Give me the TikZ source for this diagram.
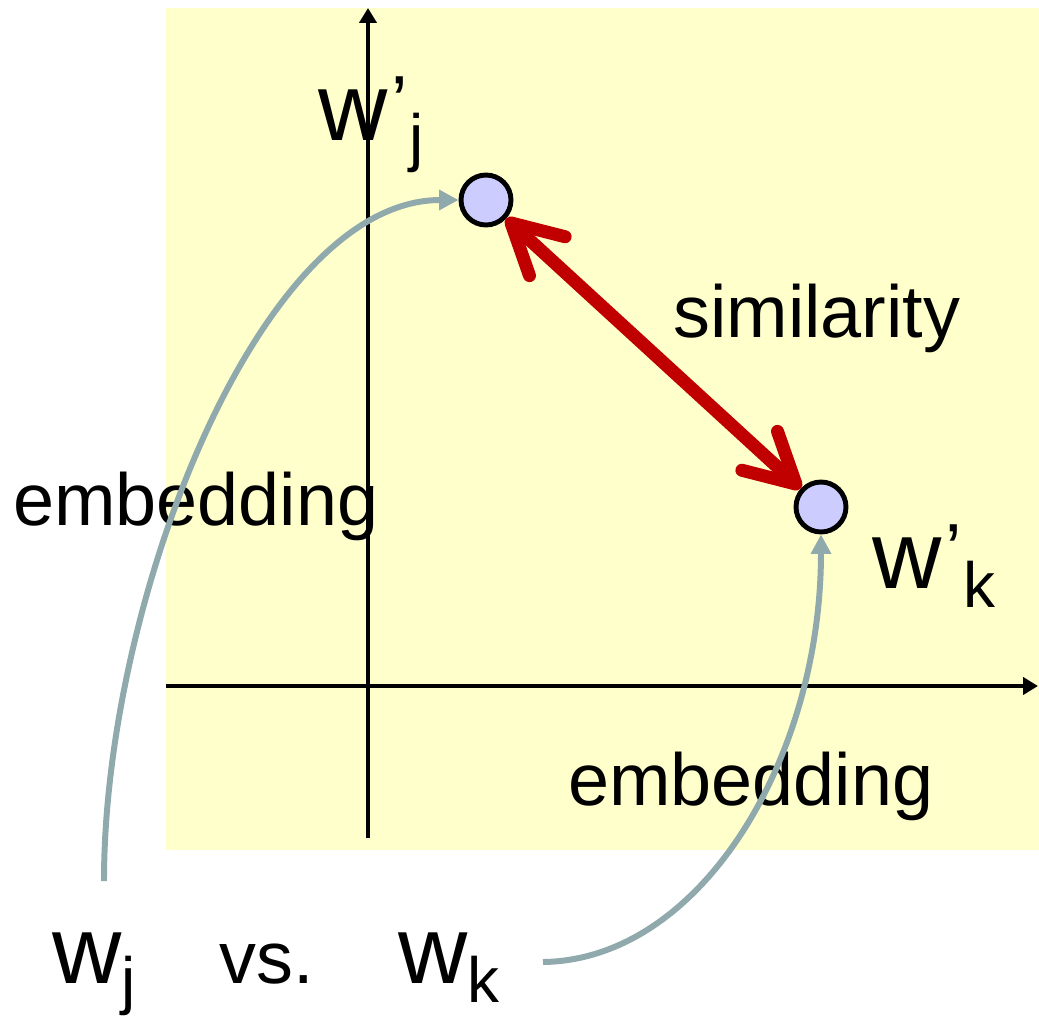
\documentclass[tikz,border=0pt]{standalone}
\usepackage{fontspec}
\setmainfont{Liberation Sans}
\usetikzlibrary{arrows.meta}

\definecolor{paper}{HTML}{FFFFCC}
\definecolor{dotfill}{HTML}{CCCCFF}
\definecolor{simred}{HTML}{C00000}
\definecolor{embgray}{HTML}{8FA9AC}

\newcommand{\bigw}{\fontsize{54.6}{60}\selectfont}
\newcommand{\midtxt}{\fontsize{42}{48}\selectfont}
\newcommand{\subtxt}{\fontsize{36.4}{40}\selectfont}
% word w with optional prime and a subscript
\newcommand{\wword}[2]{{\bigw w}#2{\subtxt\raisebox{-11pt}{#1}}}
\newcommand{\primemark}{\kern 2pt{\midtxt\raisebox{7pt}{’}}\kern 1pt}

\begin{document}
\begin{tikzpicture}[
        x=0.02cm, y=-0.02cm,
        axis/.style={line width=2.3pt, -{Triangle[length=8.5pt, width=9.7pt]}},
        dot/.style={
            circle,
            draw=black,
            fill=dotfill,
            line width=2.8pt,
            inner sep=0pt,
            minimum size=1.0cm
        },
        lbl/.style={anchor=base west, inner sep=0pt, font=\midtxt},
        simarrow/.style={
            draw=simred,
            line width=7.4pt,
            line cap=round,
            {Straight Barb[length=28pt, width=30pt, round]}-{Straight Barb[length=28pt, width=30pt, round]}
        },
        embarrow/.style={draw=embgray, line width=3.4pt, -{Triangle[length=11pt, width=11pt]}}
    ]
    \useasboundingbox (0,0) rectangle (1039,1018);
    \fill[paper] (166,8) rectangle (1039,850);

    % axes
    \coordinate (ybot) at (368,838);
    \coordinate (ytop) at (368,8);
    \coordinate (xleft) at (166,686);
    \coordinate (xright) at (1038,686);
    \draw[axis] (ybot) -- (ytop);
    \draw[axis] (xleft) -- (xright);

    % embedded points
    \node[dot] (wjp) at (486,200) {};
    \node[dot] (wkp) at (821,507) {};
    \node[lbl] (wjplab) at (318,140) {\wword{j}{\primemark}};
    \node[lbl] (wkplab) at (872,588) {\wword{k}{\primemark}};

    % words
    \node[lbl] (wj) at (52,983) {\wword{j}{}};
    \node[lbl] (vs) at (219,983) {vs.};
    \node[lbl] (wk) at (398,983) {\wword{k}{}};

    \node[lbl] (simlab) at (673,337) {similarity};
    \node[lbl] (emblabj) at (13,525) {embedding};
    \node[lbl] (emblabk) at (568,805) {embedding};

    \coordinate (wjstart) at (104,881);
    \coordinate (wkstart) at (543,962);
    \draw[embarrow] (wjstart) .. controls (104,600) and (260,200) .. (wjp.west);
    \draw[embarrow] (wkstart) .. controls (700,960) and (821,760) .. (wkp.south);
    \draw[simarrow] (wjp) -- (wkp);
\end{tikzpicture}
\end{document}
